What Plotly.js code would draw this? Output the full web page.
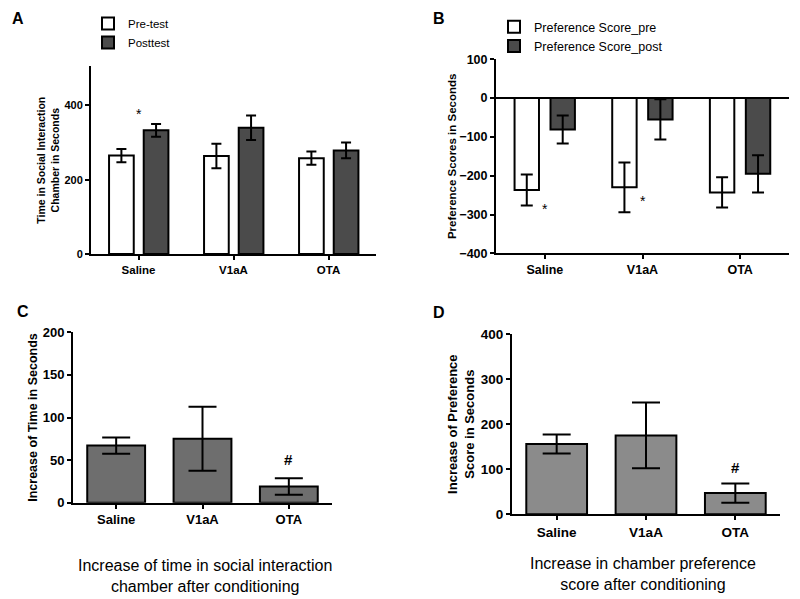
<!DOCTYPE html>
<html>
<head>
<meta charset="utf-8">
<script src="https://cdn.plot.ly/plotly-3.0.1.min.js"></script>
<style>html,body{margin:0;padding:0;background:#fff;}#chart{width:800px;height:599px;}</style>
</head>
<body>
<div id="chart"></div>
<script>
// ---- data ----
var categories = ['Saline', 'V1aA', 'OTA'];

// Panel A: time in social interaction chamber (s)
var preA = [265, 264, 258];
var preAErr = [18, 33, 18];
var postA = [333, 340, 279];
var postAErr = [17, 33, 21];

// Panel B: preference scores (s)
var preB = [-237, -230, -243];
var preBErr = [40, 64, 39];
var postB = [-81, -55, -195];
var postBErr = [36, 52, 48];

// Panel C: increase of time (s)
var incC = [67, 75, 19];
var incCErr = [9.5, 37.5, 9.8];

// Panel D: increase of preference score (s)
var incD = [156, 175, 47];
var incDErr = [21, 73, 21.5];

// significance marks
var sigA = [{cat: 0, y: 378, text: '*'}];
var sigB = [{cat: 0, y: -287, text: '*'}, {cat: 1, y: -266, text: '*'}];
var sigC = [{cat: 2, y: 51, text: '#'}];
var sigD = [{cat: 2, y: 104, text: '#'}];

// ---- styling ----
var FONT = 'Arial, "Liberation Sans", sans-serif';
var PRE_COLOR = '#ffffff';
var POST_COLOR = '#4b4b4b';
var C_COLOR = '#6e6e6e';
var D_COLOR = '#8b8b8b';

function errBar(arr, w) {
  return {type: 'data', array: arr, visible: true, color: '#000', thickness: 2, width: w};
}
function barLine() { return {color: '#000', width: 2}; }

var traces = [
  {type: 'bar', name: 'Pre-test', x: categories, y: preA, error_y: errBar(preAErr, 5),
   marker: {color: PRE_COLOR, line: barLine()}, width: 0.26, offset: -0.31,
   xaxis: 'x', yaxis: 'y', legend: 'legend'},
  {type: 'bar', name: 'Posttest', x: categories, y: postA, error_y: errBar(postAErr, 5),
   marker: {color: POST_COLOR, line: barLine()}, width: 0.26, offset: 0.055,
   xaxis: 'x', yaxis: 'y', legend: 'legend'},
  {type: 'bar', name: 'Preference Score_pre', x: categories, y: preB, error_y: errBar(preBErr, 6),
   marker: {color: PRE_COLOR, line: barLine()}, width: 0.25, offset: -0.31,
   xaxis: 'x2', yaxis: 'y2', legend: 'legend2'},
  {type: 'bar', name: 'Preference Score_post', x: categories, y: postB, error_y: errBar(postBErr, 6),
   marker: {color: POST_COLOR, line: barLine()}, width: 0.25, offset: 0.058,
   xaxis: 'x2', yaxis: 'y2', legend: 'legend2'},
  {type: 'bar', name: 'C', x: categories, y: incC, error_y: errBar(incCErr, 14),
   marker: {color: C_COLOR, line: barLine()}, width: 0.67, showlegend: false,
   xaxis: 'x3', yaxis: 'y3'},
  {type: 'bar', name: 'D', x: categories, y: incD, error_y: errBar(incDErr, 14),
   marker: {color: D_COLOR, line: barLine()}, width: 0.68, showlegend: false,
   xaxis: 'x4', yaxis: 'y4'}
];

function xAxis(domain, anchor, fs) {
  return {domain: domain, anchor: anchor, type: 'category', range: [-0.5, 2.5],
    showline: true, linecolor: '#000', linewidth: 2, ticks: 'outside', ticklen: 4,
    tickwidth: 2, tickcolor: '#000', showgrid: false, zeroline: false, fixedrange: true,
    tickfont: {family: FONT, size: fs, color: '#000', weight: 'bold'}};
}
function yAxis(domain, anchor, range, dtick, fs, title, tfs, standoff) {
  return {domain: domain, anchor: anchor, range: range, dtick: dtick, tick0: 0,
    showline: true, linecolor: '#000', linewidth: 2, ticks: 'outside', ticklen: 4,
    tickwidth: 2, tickcolor: '#000', showgrid: false, zeroline: false, fixedrange: true,
    tickfont: {family: FONT, size: fs, color: '#000', weight: 'bold'},
    title: {text: title, font: {family: FONT, size: tfs, color: '#000', weight: 'bold'}, standoff: standoff}};
}

var ya = yAxis([0.576, 0.889], 'x', [0, 505], 200, 11, 'Time in Social Interaction<br>Chamber in Seconds', 10.5, 3);
var yb = yAxis([0.5771, 0.9010], 'x2', [-400, 100], 100, 12.5, 'Preference Scores in Seconds', 11.5, 0);
yb.zeroline = true; yb.zerolinecolor = '#000'; yb.zerolinewidth = 2;
var yc = yAxis([0.1608, 0.4452], 'x3', [0, 200], 50, 13, 'Increase of Time in Seconds', 12.5, 2);
var yd = yAxis([0.1414, 0.4424], 'x4', [0, 400], 100, 13.5, 'Increase of Preference<br>Score in Seconds', 13, 3);

function sigAnn(list, xr, yr, size, bold) {
  return list.map(function (s) {
    return {xref: xr, yref: yr, x: s.cat, y: s.y, text: s.text, showarrow: false,
      font: {family: FONT, size: size, color: '#000', weight: bold ? 'bold' : 'normal'}};
  });
}
function letter(t, px, py) {
  return {xref: 'paper', yref: 'paper', x: px / 800, y: 1 - py / 599, text: t, showarrow: false,
    xanchor: 'center', yanchor: 'middle', font: {family: FONT, size: 16, color: '#000', weight: 'bold'}};
}
function caption(t, px, py) {
  return {xref: 'paper', yref: 'paper', x: px / 800, y: 1 - py / 599, text: t, showarrow: false,
    xanchor: 'center', yanchor: 'middle', align: 'center', font: {family: FONT, size: 16, color: '#000'}};
}

var annotations = [].concat(
  sigAnn(sigA, 'x', 'y', 14, false),
  sigAnn(sigB, 'x2', 'y2', 14, false),
  sigAnn(sigC, 'x3', 'y3', 15, true),
  sigAnn(sigD, 'x4', 'y4', 15, true),
  [letter('A', 17.5, 19), letter('B', 439, 19), letter('C', 22.5, 311.5), letter('D', 439, 312),
   caption('Increase of time in social interaction<br>chamber after conditioning', 205, 575.5),
   caption('Increase in chamber preference<br>score after conditioning', 643, 573.5)]
);

var layout = {
  width: 800, height: 599, margin: {l: 0, r: 0, t: 0, b: 0},
  paper_bgcolor: '#fff', plot_bgcolor: 'rgba(0,0,0,0)',
  barmode: 'group', font: {family: FONT, color: '#000'},
  xaxis: xAxis([0.11375, 0.47], 'y', 11.5),
  yaxis: ya,
  xaxis2: xAxis([0.62, 0.98625], 'y2', 12.5),
  yaxis2: yb,
  xaxis3: xAxis([0.09125, 0.415], 'y3', 13),
  yaxis3: yc,
  xaxis4: xAxis([0.64, 0.975], 'y4', 13.5),
  yaxis4: yd,
  legend: {x: 88 / 800, y: 1 - 9 / 599, xanchor: 'left', yanchor: 'top', bgcolor: 'rgba(0,0,0,0)',
    font: {family: FONT, size: 11.5, color: '#000'}, tracegroupgap: 0, itemwidth: 30},
  legend2: {x: 494 / 800, y: 1 - 12 / 599, xanchor: 'left', yanchor: 'top', bgcolor: 'rgba(0,0,0,0)',
    font: {family: FONT, size: 12.5, color: '#000'}, tracegroupgap: 0, itemwidth: 30},
  annotations: annotations,
  showlegend: true
};

Plotly.newPlot('chart', traces, layout, {staticPlot: true});
</script>
</body>
</html>
